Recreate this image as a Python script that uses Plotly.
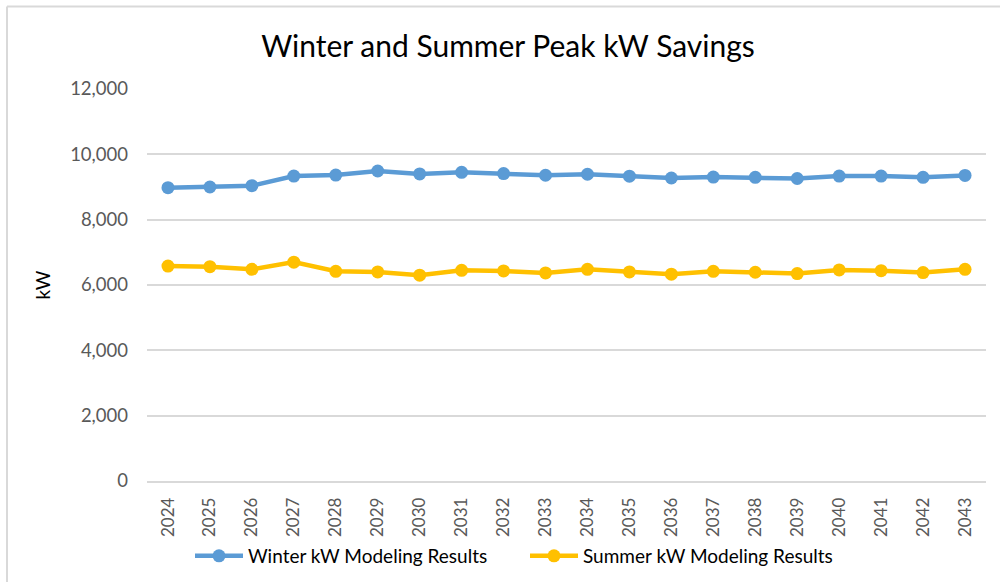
import plotly.graph_objects as go

years = [str(y) for y in range(2024, 2044)]
winter_kw = [8980, 9000, 9040, 9335, 9365, 9490, 9400, 9450, 9410, 9360,
             9390, 9330, 9275, 9305, 9295, 9260, 9335, 9335, 9295, 9355]
summer_kw = [6580, 6560, 6480, 6700, 6420, 6400, 6300, 6450, 6430, 6370,
             6480, 6400, 6330, 6420, 6390, 6350, 6460, 6440, 6380, 6480]

series_names = ["Winter kW Modeling Results", "Summer kW Modeling Results"]
title_text = "Winter and Summer Peak kW Savings"
y_title = "kW"

FONT = "Lato"
GRAY = "#595959"
GRID = "#D9D9D9"

fig = go.Figure()
fig.add_trace(go.Scatter(x=years, y=winter_kw, name=series_names[0], mode="lines+markers",
                         line=dict(color="#5B9BD5", width=4.5),
                         marker=dict(color="#5B9BD5", size=13)))
fig.add_trace(go.Scatter(x=years, y=summer_kw, name=series_names[1], mode="lines+markers",
                         line=dict(color="#FFC000", width=4.5),
                         marker=dict(color="#FFC000", size=13)))

fig.update_layout(
    width=1000, height=582,
    paper_bgcolor="white", plot_bgcolor="white",
    margin=dict(l=147, r=14, t=89, b=101, autoexpand=False),
    font=dict(family=FONT, color=GRAY, size=15),
    title=dict(text=title_text, x=0.508, xanchor="center", y=1 - 46 / 582, yanchor="middle",
               font=dict(family=FONT, size=30, color="#000000")),
    xaxis=dict(type="category", range=[-0.5, 19.5], showgrid=False, showline=True,
               linecolor=GRID, linewidth=1.5,
               tickangle=-90, ticks="", tickfont=dict(size=17, color=GRAY),
               ticklabelstandoff=8, fixedrange=True, automargin=False),
    yaxis=dict(range=[0, 12000], tickvals=[0, 2000, 4000, 6000, 8000, 10000, 12000],
               tickformat=",d", showgrid=True, gridcolor=GRID, gridwidth=1.5,
               zeroline=False, showline=False, ticks="", ticklabelstandoff=18,
               tickfont=dict(size=18.5, color=GRAY), automargin=False, fixedrange=True,
               title=dict(text=y_title, font=dict(size=19, color="#000000"), standoff=14)),
    legend=dict(orientation="h", x=(190 - 147) / 839, xanchor="left",
                yref="container", y=(582 - 556) / 582, yanchor="middle",
                font=dict(size=19, color="#000000"), itemwidth=48, entrywidth=272,
                bgcolor="rgba(0,0,0,0)"),
    showlegend=True,
)

# chart frame (top and left border)
bx = (7 - 147) / 839
by = (481.5 - 7) / 392
fig.add_shape(type="line", xref="paper", yref="paper", x0=bx, x1=bx, y0=-0.4, y1=by,
              line=dict(color=GRID, width=2))
fig.add_shape(type="line", xref="paper", yref="paper", x0=bx, x1=1.1, y0=by, y1=by,
              line=dict(color=GRID, width=2))

fig.write_html("out.html", config={"displayModeBar": False},
               post_script="document.body.style.margin='0';document.body.style.overflow='hidden';")
